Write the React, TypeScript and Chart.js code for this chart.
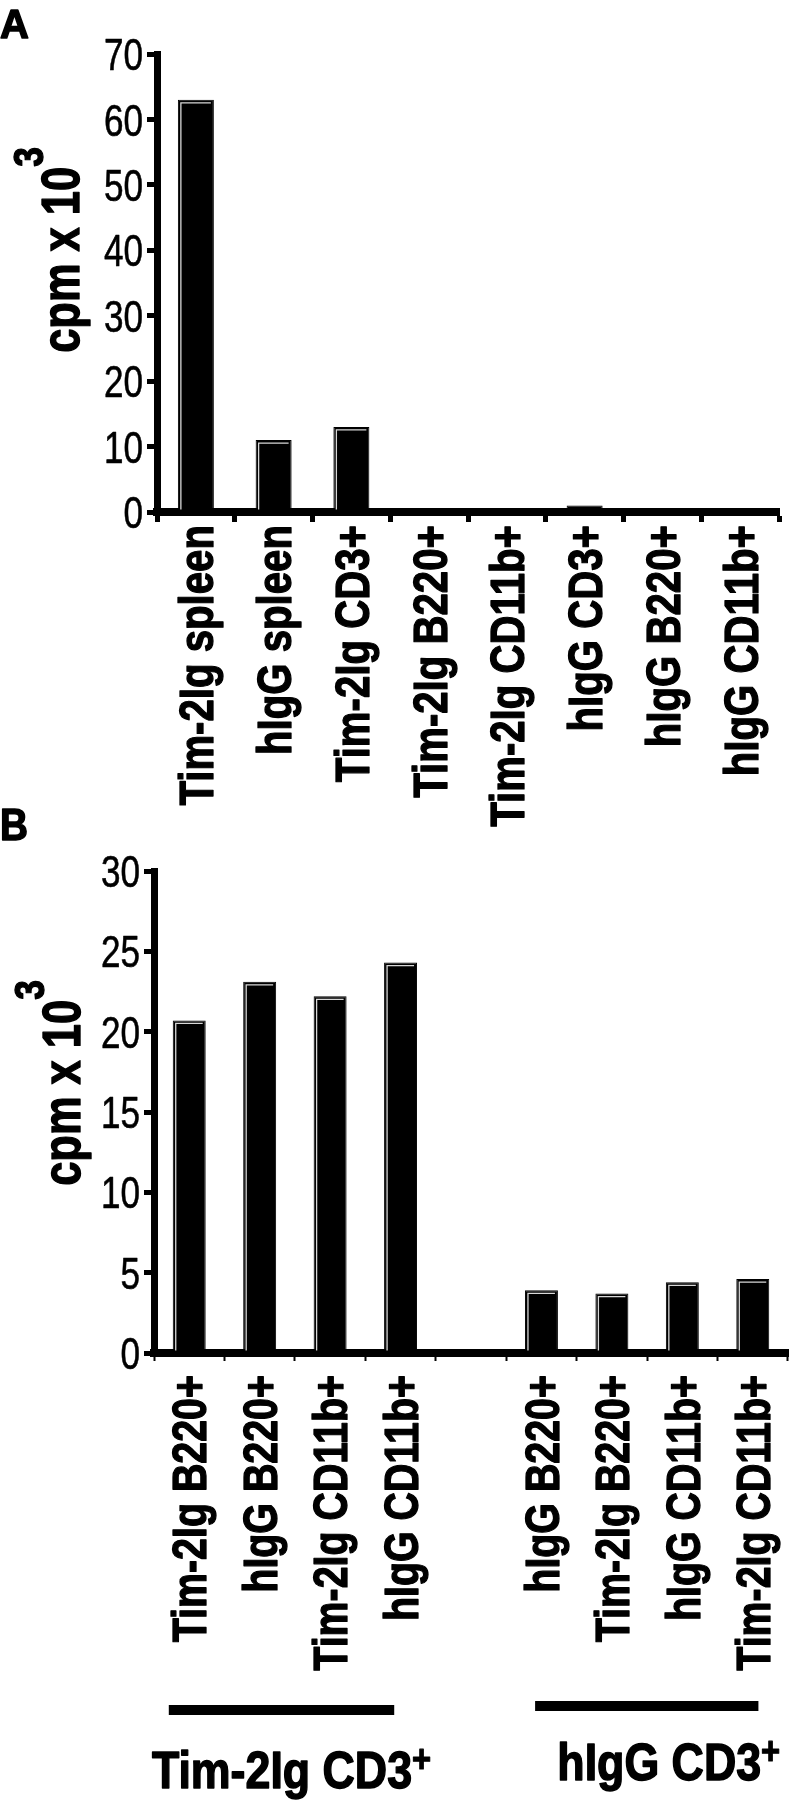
import React, { useEffect, useRef } from "react";
import { Chart, registerables } from "chart.js";

Chart.register(...registerables);

// ---------- data ----------
const categoriesA = [
  "Tim-2Ig spleen",
  "hIgG spleen",
  "Tim-2Ig CD3+",
  "Tim-2Ig B220+",
  "Tim-2Ig CD11b+",
  "hIgG CD3+",
  "hIgG B220+",
  "hIgG CD11b+",
];
const valuesA = [63, 11, 13, 0.2, 0.2, 1.0, 0.2, 0.4];
const yMaxA = 70;
const yStepA = 10;

const categoriesB = [
  "Tim-2Ig B220+",
  "hIgG B220+",
  "Tim-2Ig CD11b+",
  "hIgG CD11b+",
  "",
  "hIgG B220+",
  "Tim-2Ig B220+",
  "hIgG CD11b+",
  "Tim-2Ig CD11b+",
];
const valuesB = [20.7, 23.1, 22.2, 24.3, null, 3.9, 3.7, 4.4, 4.6];
const yMaxB = 30;
const yStepB = 5;

const groupLabelsB = ["Tim-2Ig CD3", "hIgG CD3"];
const groupSupB = ["+", "+"];
const groupFirstB = [0, 5];
const groupLastB = [3, 8];

const yTitleMain = "cpm x 10";
const yTitleSup = "3";

// ---------- style ----------
const FONT = "'Liberation Sans', Arial, Helvetica, sans-serif";
const CAP = 0.716;
const W = 791;
const HA = 860;
const TOPB = 790;
const HB = 1010;

function txt(
  ctx: any,
  text: string,
  x: number,
  y: number,
  o: {
    size: number;
    bold?: boolean;
    sx: number;
    align: string;
    rot?: boolean;
    capCenter?: boolean;
    stroke?: number;
  }
) {
  ctx.save();
  ctx.fillStyle = "#000";
  ctx.strokeStyle = "#000";
  ctx.lineJoin = "round";
  ctx.font = `${o.bold ? "bold " : ""}${o.size}px ${FONT}`;
  ctx.textAlign = o.align;
  ctx.textBaseline = "alphabetic";
  ctx.translate(x, y);
  if (o.rot) ctx.rotate(-Math.PI / 2);
  ctx.scale(o.sx, 1);
  const dy = o.capCenter ? (CAP * o.size) / 2 : 0;
  ctx.fillText(text, 0, dy);
  if (o.stroke) {
    ctx.lineWidth = o.stroke;
    ctx.strokeText(text, 0, dy);
  }
  ctx.restore();
}

function barHighlight(chart: any) {
  const ctx = chart.ctx;
  const meta = chart.getDatasetMeta(0);
  ctx.save();
  ctx.strokeStyle = "#d8d8d8";
  ctx.lineWidth = 1.3;
  meta.data.forEach((el: any) => {
    const p = el.getProps(["x", "y", "width", "base"], true);
    if (p.y == null || isNaN(p.y)) return;
    const h = p.base - p.y;
    if (h < 8) return;
    const l = p.x - p.width / 2 + 3;
    const r = p.x + p.width / 2 - 3;
    const t = p.y + 3;
    ctx.beginPath();
    ctx.moveTo(l, p.base - 2);
    ctx.lineTo(l, t);
    ctx.lineTo(r, t);
    ctx.stroke();
  });
  ctx.restore();
}

function makeDecor(o: any, labels: string[]) {
  return {
    id: "decor" + o.letter,
    afterDatasetsDraw(chart: any) {
      barHighlight(chart);
    },
    afterDraw(chart: any) {
      const ctx = chart.ctx;
      const area = chart.chartArea;
      const xs = chart.scales.x;
      const ys = chart.scales.y;

      // panel letter
      txt(ctx, o.letter, o.letterX, o.letterY, {
        size: o.letterSize,
        bold: true,
        sx: o.letterSx,
        align: "left",
        stroke: 1.5,
      });

      // y tick labels
      ys.ticks.forEach((t: any) => {
        txt(ctx, String(t.value), area.left - o.yLabelGap, ys.getPixelForValue(t.value), {
          size: o.yFont,
          sx: 0.78,
          align: "right",
          capCenter: true,
          stroke: 0.6,
        });
      });

      // x tick labels (rotated, reading upward)
      labels.forEach((lab, i) => {
        if (!lab) return;
        txt(ctx, lab, xs.getPixelForValue(i), area.bottom + o.xLabelGap, {
          size: o.xFont,
          bold: true,
          sx: 0.82,
          align: "right",
          rot: true,
          capCenter: true,
          stroke: 1.3,
        });
      });

      // y title with superscript
      ctx.save();
      ctx.fillStyle = "#000";
      ctx.strokeStyle = "#000";
      ctx.lineJoin = "round";
      ctx.lineWidth = 1.4;
      ctx.textAlign = "left";
      ctx.textBaseline = "alphabetic";
      ctx.font = `bold ${o.titleSize}px ${FONT}`;
      const w1 = ctx.measureText(yTitleMain).width * 0.82;
      ctx.font = `bold ${o.supSize}px ${FONT}`;
      const w2 = ctx.measureText(yTitleSup).width * 0.82;
      const total = w1 + w2;
      ctx.translate(o.titleX, o.titleCY);
      ctx.rotate(-Math.PI / 2);
      ctx.save();
      ctx.translate(-total / 2, 0);
      ctx.scale(0.82, 1);
      ctx.font = `bold ${o.titleSize}px ${FONT}`;
      ctx.fillText(yTitleMain, 0, 0);
      ctx.strokeText(yTitleMain, 0, 0);
      ctx.restore();
      ctx.save();
      ctx.translate(-total / 2 + w1, -o.supRaise);
      ctx.scale(0.82, 1);
      ctx.font = `bold ${o.supSize}px ${FONT}`;
      ctx.fillText(yTitleSup, 0, 0);
      ctx.strokeText(yTitleSup, 0, 0);
      ctx.restore();
      ctx.restore();

      // group bars and labels
      if (o.groups) {
        const cw = xs.getPixelForValue(1) - xs.getPixelForValue(0);
        ctx.save();
        ctx.fillStyle = "#000";
        for (let g = 0; g < groupLabelsB.length; g++) {
          const x0 = xs.getPixelForValue(groupFirstB[g]) + o.lineStart[g] * cw;
          const x1 = xs.getPixelForValue(groupLastB[g]) + o.lineEnd[g] * cw;
          ctx.fillRect(x0, o.lineY[g] - 5, x1 - x0, 10);
          ctx.font = `bold ${o.groupSize}px ${FONT}`;
          const wm = ctx.measureText(groupLabelsB[g]).width * o.groupSx;
          ctx.font = `bold ${o.groupSupSize}px ${FONT}`;
          const ws = ctx.measureText(groupSupB[g]).width * o.groupSx;
          const cx = (x0 + x1) / 2 + o.labelDx[g];
          const left = cx - (wm + ws) / 2;
          txt(ctx, groupLabelsB[g], left, o.labelY[g], {
            size: o.groupSize,
            bold: true,
            sx: o.groupSx,
            align: "left",
            stroke: 1.5,
          });
          txt(ctx, groupSupB[g], left + wm, o.labelY[g] - o.groupSupRaise, {
            size: o.groupSupSize,
            bold: true,
            sx: o.groupSx,
            align: "left",
            stroke: 1.2,
          });
        }
        ctx.restore();
      }
    },
  };
}

function makeConfig(
  labels: string[],
  values: (number | null)[],
  yMax: number,
  yStep: number,
  lay: any,
  decor: any
): any {
  return {
    type: "bar",
    data: {
      labels,
      datasets: [
        {
          data: values,
          backgroundColor: "#000",
          borderColor: "#000",
          borderWidth: 1,
          barPercentage: lay.barPct,
          categoryPercentage: 1,
        },
      ],
    },
    options: {
      responsive: false,
      animation: false,
      events: [],
      layout: { padding: { top: lay.top, right: lay.right, left: 0, bottom: 0 } },
      plugins: { legend: { display: false }, tooltip: { enabled: false }, title: { display: false } },
      scales: {
        x: {
          offset: true,
          grid: {
            display: true,
            drawOnChartArea: false,
            drawTicks: true,
            tickLength: lay.xTickLen,
            tickWidth: lay.xTickWidth,
            tickColor: "#000",
            offset: true,
          },
          border: { display: true, width: 8, color: "#000" },
          ticks: { display: false, autoSkip: false },
          afterFit: (s: any) => {
            s.height = lay.H - lay.bottom;
          },
        },
        y: {
          min: 0,
          max: yMax,
          grid: {
            display: true,
            drawOnChartArea: false,
            drawTicks: true,
            tickLength: 10,
            tickWidth: 5,
            tickColor: "#000",
          },
          border: { display: true, width: 7, color: "#000" },
          ticks: { display: false, stepSize: yStep },
          afterFit: (s: any) => {
            s.width = lay.left;
          },
        },
      },
    },
    plugins: [decor],
  };
}

function Panel({ top, height, config }: { top: number; height: number; config: () => any }) {
  const ref = useRef<HTMLCanvasElement | null>(null);
  useEffect(() => {
    if (!ref.current) return;
    const chart = new Chart(ref.current, config());
    return () => chart.destroy();
  }, []);
  return (
    <canvas
      ref={ref}
      width={W}
      height={height}
      style={{ position: "absolute", left: 0, top, width: W, height, display: "block" }}
    />
  );
}

export default function App() {
  const cfgA = () =>
    makeConfig(
      categoriesA,
      valuesA,
      yMaxA,
      yStepA,
      {
        H: HA,
        top: 54,
        bottom: 512,
        left: 157,
        right: W - 779,
        barPct: 0.463,
        xTickLen: 10,
        xTickWidth: 5,
      },
      makeDecor(
        {
          letter: "A",
          letterSize: 40,
          letterSx: 1,
          letterX: 0,
          letterY: 38,
          yFont: 45,
          yLabelGap: 14,
          xFont: 49,
          xLabelGap: 13,
          titleSize: 53,
          supSize: 43,
          supRaise: 36,
          titleX: 79,
          titleCY: 250,
        },
        categoriesA
      )
    );
  const cfgB = () =>
    makeConfig(
      categoriesB,
      valuesB,
      yMaxB,
      yStepB,
      {
        H: HB,
        top: 81,
        bottom: 563,
        left: 154,
        right: W - 788,
        barPct: 0.468,
        xTickLen: 8,
        xTickWidth: 2,
      },
      makeDecor(
        {
          letter: "B",
          letterSize: 44,
          letterSx: 0.88,
          letterX: 0,
          letterY: 50,
          yFont: 45,
          yLabelGap: 14,
          xFont: 48,
          xLabelGap: 22,
          titleSize: 53,
          supSize: 43,
          supRaise: 36,
          titleX: 80,
          titleCY: 293,
          groups: true,
          lineStart: [-0.29, -0.09],
          lineEnd: [-0.09, 0.08],
          lineY: [920, 916],
          labelDx: [10, 22],
          labelY: [998, 990],
          groupSize: 52,
          groupSx: 0.86,
          groupSupSize: 38,
          groupSupRaise: 16,
        },
        categoriesB
      )
    );
  return (
    <div style={{ position: "absolute", left: 0, top: 0, width: W, height: 1800, background: "#fff" }}>
      <Panel top={0} height={HA} config={cfgA} />
      <Panel top={TOPB} height={HB} config={cfgB} />
    </div>
  );
}
